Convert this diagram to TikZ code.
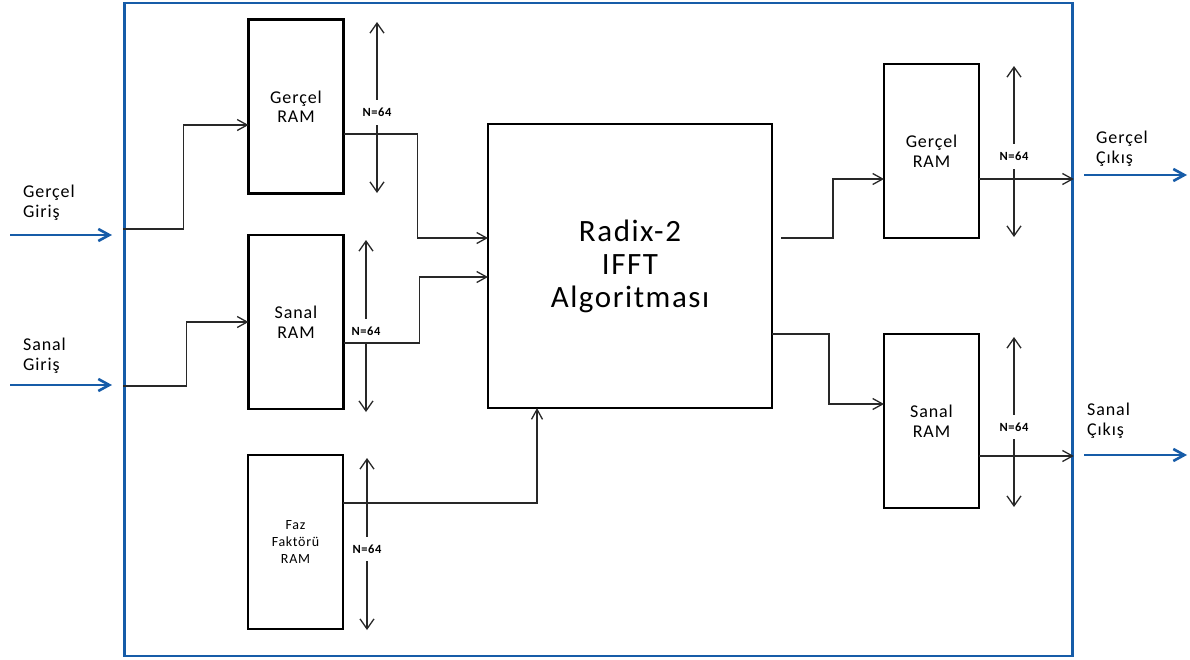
\documentclass[tikz,border=0pt]{standalone}
\usepackage{fontspec}
\setmainfont{Carlito}
\newfontfamily\wide{Carlito}[LetterSpace=5.0]
\usetikzlibrary{arrows.meta}
\def\BoxW{2.9pt}
\def\LinkW{1.3pt}
\def\PortW{2.6pt}
\definecolor{portblue}{RGB}{22,92,168}
\definecolor{linkgray}{RGB}{40,40,40}
\def\ClrLink{linkgray}
\def\ClrPort{portblue}
\tikzset{
    ram box/.style={
        draw=black, line width=\BoxW, inner sep=0pt, outer sep=0pt,
        minimum width=95pt, minimum height=174pt, align=center,
        font=\wide\fontsize{18}{19.5}\selectfont
    },
    link/.style={
        draw=\ClrLink, line width=\LinkW,
        -{Straight Barb[length=10pt,width=11pt]}
    },
    span/.style={
        draw=\ClrLink, line width=\LinkW,
        {Straight Barb[length=10pt,width=14pt]}-{Straight Barb[length=10pt,width=14pt]}
    },
    nlabel/.style={
        fill=white, inner xsep=0.5pt, inner ysep=8pt,
        font=\wide\bfseries\fontsize{12.5}{13}\selectfont
    },
    port/.style={
        draw=\ClrPort, line width=\PortW,
        -{Straight Barb[length=11pt,width=12pt]}
    },
    port text/.style={
        anchor=west, align=left, inner sep=0pt,
        font=\wide\fontsize{18}{20}\selectfont
    }
}

\begin{document}
\begin{tikzpicture}[x=1pt, y=-1pt]
    \useasboundingbox (0,0) rectangle (1190,659);

    % system frame
    \node[draw=\ClrPort, line width=\PortW, inner sep=0pt,
        minimum width=948pt, minimum height=653pt] (sys) at (598.5,329.5) {};

    % memories and core
    \node[ram box] (ramGa) at (296,106.5) {Gerçel\\RAM};
    \node[ram box] (ramSa) at (296,322) {Sanal\\RAM};
    \node[ram box, minimum width=95pt,
        font=\wide\fontsize{14}{17}\selectfont] (ramF) at (295.5,542) {Faz\\Faktörü\\RAM};
    \node[ram box, minimum width=284pt, minimum height=284pt,
        font=\wide\fontsize{31}{33}\selectfont] (fft) at (630,266) {Radix-2\\IFFT\\Algoritması};
    \node[ram box] (ramGb) at (931.5,151) {Gerçel\\RAM};
    \node[ram box] (ramSb) at (931.5,421) {Sanal\\RAM};

    % ports
    \coordinate (gInA) at (10,235);   \coordinate (gInB) at (112,235);
    \coordinate (sInA) at (10,385);   \coordinate (sInB) at (112,385);
    \coordinate (gOutA) at (1084,175); \coordinate (gOutB) at (1187,175);
    \coordinate (sOutA) at (1084,455); \coordinate (sOutB) at (1187,455);
    \draw[port] (gInA) -- (gInB);
    \draw[port] (sInA) -- (sInB);
    \draw[port] (gOutA) -- (gOutB);
    \draw[port] (sOutA) -- (sOutB);
    \node[port text] (gInTxt) at (23,203) {Gerçel\\Giriş};
    \node[port text] (sInTxt) at (23,356) {Sanal\\Giriş};
    \node[port text] (gOutTxt) at (1096,149) {Gerçel\\Çıkış};
    \node[port text] (sOutTxt) at (1087,421) {Sanal\\Çıkış};

    % N=64 ranges
    \foreach \nm/\x/\ya/\yb in {a/377/22/193, b/366/240/412, c/367/458/630,
                                d/1014/66/237, e/1014/337/507}{
        \coordinate (top\nm) at (\x,\ya);
        \coordinate (bot\nm) at (\x,\yb);
        \draw[span] (top\nm) -- node[nlabel, pos=0.53] (len\nm) {N=64} (bot\nm);
    }

    % wiring
    \coordinate (gJoin) at (sys.west |- 0,229);
    \coordinate (sJoin) at (sys.west |- 0,386);
    \coordinate (ramGaIn) at (ramGa.west |- 0,125);
    \coordinate (ramSaIn) at (ramSa.west |- 0,322);
    \coordinate (ramGaOut) at (ramGa.east |- 0,134);
    \coordinate (ramSaOut) at (ramSa.east |- 0,343);
    \coordinate (ramFOut) at (ramF.east |- 0,503);
    \coordinate (fftInA) at (fft.west |- 0,238);
    \coordinate (fftInB) at (fft.west |- 0,277);
    \coordinate (fftInC) at (fft.south -| 537,0);
    \coordinate (fftOutA) at (781,238);
    \coordinate (fftOutB) at (fft.east |- 0,334);
    \coordinate (ramGbIn) at (ramGb.west |- 0,179);
    \coordinate (ramSbIn) at (ramSb.west |- 0,404);
    \coordinate (ramGbOut) at (ramGb.east |- 0,179);
    \coordinate (ramSbOut) at (ramSb.east |- 0,456);

    \draw[link] (gJoin) -- ++(60,0) |- (ramGaIn);
    \draw[link] (sJoin) -- ++(63,0) |- (ramSaIn);
    \draw[link] (ramGaOut) -- ++(74,0) |- (fftInA);
    \draw[link] (ramSaOut) -- ++(76,0) |- (fftInB);
    \draw[link] (ramFOut) -| (fftInC);
    \draw[link] (fftOutA) -- ++(52,0) |- (ramGbIn);
    \draw[link] (fftOutB) -- ++(57,0) |- (ramSbIn);
    \draw[link] (ramGbOut) -- (ramGbOut -| sys.east);
    \draw[link] (ramSbOut) -- (ramSbOut -| sys.east);
\end{tikzpicture}
\end{document}
